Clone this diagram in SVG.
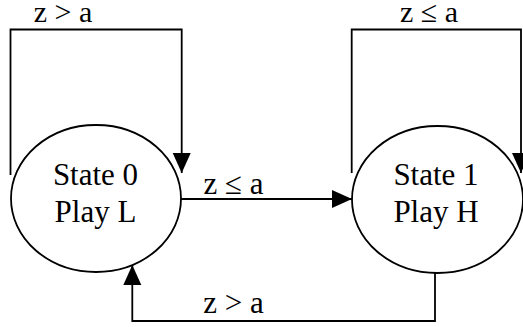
<svg xmlns="http://www.w3.org/2000/svg" width="523" height="327" viewBox="0 0 523 327">
  <style>
    .node ellipse { fill: #fff; stroke: #000; stroke-width: 1.8; }
    text { font-family: "Liberation Serif", "Times New Roman", serif; font-size: 31px; fill: #000; text-anchor: middle; }
    .top { font-size: 30px; }
    .edge { fill: none; stroke: #000; stroke-width: 1.8; }
  </style>
  <defs>
    <marker id="arr" markerWidth="20" markerHeight="20" refX="20" refY="10" orient="auto" markerUnits="userSpaceOnUse">
      <path d="M0,1 L20,10 L0,19 z" fill="#000"/>
    </marker>
  </defs>
  <g id="state0" class="node">
    <ellipse cx="96" cy="198.5" rx="85" ry="73.5"/>
    <text x="95.5" y="185">State 0</text>
    <text x="95.5" y="221.5">Play L</text>
  </g>
  <g id="state1" class="node">
    <ellipse cx="437.5" cy="199.5" rx="85.5" ry="73.5"/>
    <text x="436" y="185">State 1</text>
    <text x="436" y="221.5">Play H</text>
  </g>
  <g id="connectors">
    <path class="edge" d="M10.5,175 L10.5,29.5 L181.7,29.5 L181.7,173" marker-end="url(#arr)"/>
    <path class="edge" d="M181,199 L352,199" marker-end="url(#arr)"/>
    <path class="edge" d="M351.7,173 L351.7,29.5 L521,29.5 L521,173" marker-end="url(#arr)"/>
    <path class="edge" d="M435,273 L435,321 L132.3,321 L132.3,265" marker-end="url(#arr)"/>
    <text class="top" x="63" y="22">z &gt; a</text>
    <text class="top" x="429" y="22">z ≤ a</text>
    <text x="233.5" y="194">z ≤ a</text>
    <text x="233.5" y="312.5">z &gt; a</text>
  </g>
</svg>
